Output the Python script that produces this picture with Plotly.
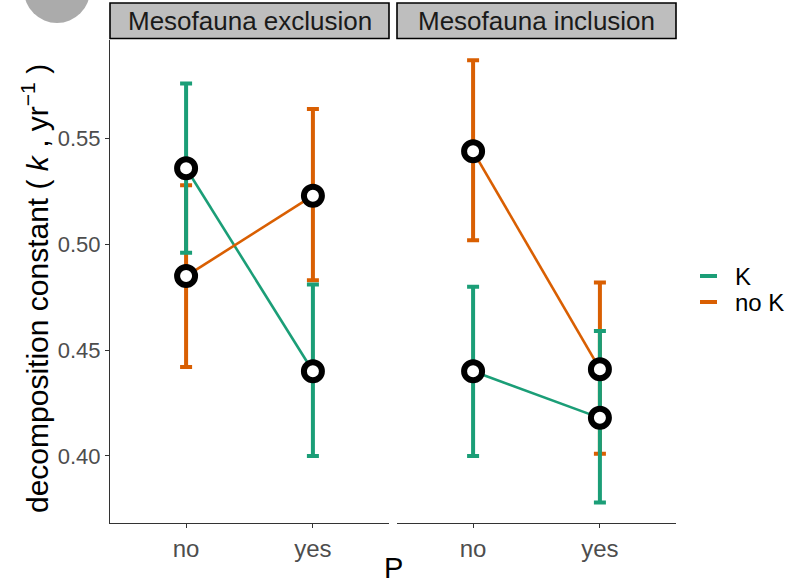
import plotly.graph_objects as go

P = ["no", "yes"]
panels = ["Mesofauna exclusion", "Mesofauna inclusion"]
groups = ["K", "no K"]

# Mesofauna exclusion
excl_K_mean = [0.536, 0.440]
excl_K_lo = [0.496, 0.400]
excl_K_hi = [0.576, 0.481]
excl_noK_mean = [0.485, 0.523]
excl_noK_lo = [0.442, 0.483]
excl_noK_hi = [0.528, 0.564]

# Mesofauna inclusion
incl_K_mean = [0.440, 0.418]
incl_K_lo = [0.400, 0.378]
incl_K_hi = [0.480, 0.459]
incl_noK_mean = [0.544, 0.441]
incl_noK_lo = [0.502, 0.401]
incl_noK_hi = [0.587, 0.482]

colors = {"K": "#1B9E77", "no K": "#D95F02"}
FONT = "Liberation Sans, Arial, sans-serif"

W, H = 789, 579
L, R, T, B = 110, 789 - 676, 3, 579 - 523
PW, PH = W - L - R, H - T - B


def px_x(p):
    return (p - L) / PW


def px_y(p):
    return (H - B - p) / PH


data = {
    0: {"K": (excl_K_mean, excl_K_lo, excl_K_hi), "no K": (excl_noK_mean, excl_noK_lo, excl_noK_hi)},
    1: {"K": (incl_K_mean, incl_K_lo, incl_K_hi), "no K": (incl_noK_mean, incl_noK_lo, incl_noK_hi)},
}

fig = go.Figure()
for i in range(2):
    xa = "x" if i == 0 else "x2"
    ya = "y" if i == 0 else "y2"
    # error bars: no K first, then K on top
    for g in ["no K", "K"]:
        m, lo, hi = data[i][g]
        fig.add_trace(go.Scatter(
            x=P, y=m, xaxis=xa, yaxis=ya, mode="markers",
            marker=dict(size=0.1, color=colors[g], opacity=0),
            error_y=dict(type="data", symmetric=False,
                         array=[h - v for h, v in zip(hi, m)],
                         arrayminus=[v - l for v, l in zip(m, lo)],
                         color=colors[g], thickness=4, width=6),
            showlegend=False, hoverinfo="skip"))
    for g in ["K", "no K"]:
        m, lo, hi = data[i][g]
        fig.add_trace(go.Scatter(
            x=P, y=m, xaxis=xa, yaxis=ya, mode="lines",
            line=dict(color=colors[g], width=2.6),
            showlegend=False))
    for g in ["K", "no K"]:
        m, lo, hi = data[i][g]
        fig.add_trace(go.Scatter(
            x=P, y=m, xaxis=xa, yaxis=ya, mode="markers",
            marker=dict(size=18, color="white", line=dict(color="black", width=6)),
            showlegend=False))

yr = [0.3683, 0.5966]
ydom = [0, px_y(40)]
d1 = [0, px_x(389)]
d2 = [px_x(397), 1]

axis_common = dict(showgrid=False, zeroline=False, showline=True, linecolor="#333333",
                   linewidth=1.2, ticks="outside", ticklen=4, tickcolor="#333333")

fig.update_layout(
    width=W, height=H,
    margin=dict(l=L, r=R, t=T, b=B),
    paper_bgcolor="white", plot_bgcolor="white",
    showlegend=False,
    xaxis=dict(domain=d1, anchor="y", type="category", range=[-0.6, 1.6],
               tickfont=dict(family=FONT, size=24, color="#4D4D4D"), **axis_common),
    xaxis2=dict(domain=d2, anchor="y2", type="category", range=[-0.6, 1.6],
                tickfont=dict(family=FONT, size=24, color="#4D4D4D"), **axis_common),
    yaxis=dict(domain=ydom, anchor="x", range=yr, tickvals=[0.40, 0.45, 0.50, 0.55],
               ticktext=["0.40", "0.45", "0.50", "0.55"],
               tickfont=dict(family=FONT, size=22, color="#4D4D4D"), **axis_common),
    yaxis2=dict(domain=ydom, anchor="x2", range=yr, showticklabels=False, showgrid=False,
                zeroline=False, showline=False, ticks=""),
)

shapes = []
annotations = []
# strips
for dom, label in zip([d1, d2], panels):
    shapes.append(dict(type="rect", xref="paper", yref="paper",
                       x0=dom[0], x1=dom[1], y0=px_y(38.5), y1=px_y(3),
                       fillcolor="#BEBEBE", line=dict(color="black", width=1.6), layer="above"))
    annotations.append(dict(xref="paper", yref="paper", x=(dom[0] + dom[1]) / 2, y=px_y(21),
                            text=label, showarrow=False, xanchor="center", yanchor="middle",
                            font=dict(family=FONT, size=26, color="#1A1A1A")))
# axis titles
annotations.append(dict(xref="paper", yref="paper", x=px_x(393), y=px_y(568), text="P",
                        showarrow=False, xanchor="center", yanchor="middle",
                        font=dict(family=FONT, size=29, color="black")))
annotations.append(dict(xref="paper", yref="paper", x=px_x(35), y=px_y(289),
                        text="decomposition constant ( <i>k</i> , yr<sup>−1</sup> )",
                        textangle=-90, showarrow=False, xanchor="center", yanchor="middle",
                        font=dict(family=FONT, size=30, color="black")))
# legend
for j, g in enumerate(groups):
    yy = 276 + j * 26
    shapes.append(dict(type="line", xref="paper", yref="paper",
                       x0=px_x(700), x1=px_x(717), y0=px_y(yy), y1=px_y(yy),
                       line=dict(color=colors[g], width=4)))
    annotations.append(dict(xref="paper", yref="paper", x=px_x(733), y=px_y(yy), text=g,
                            showarrow=False, xanchor="left", yanchor="middle",
                            font=dict(family=FONT, size=24, color="black")))
# grey circle artifact top-left
shapes.append(dict(type="circle", xref="paper", yref="paper",
                   x0=px_x(24), x1=px_x(90), y0=px_y(23), y1=px_y(-43),
                   fillcolor="#ABABAB", line=dict(width=0)))

fig.update_layout(shapes=shapes, annotations=annotations)
fig.write_html("out.html", config={"displayModeBar": False},
               post_script="document.body.style.margin='0';document.body.style.padding='0';")
